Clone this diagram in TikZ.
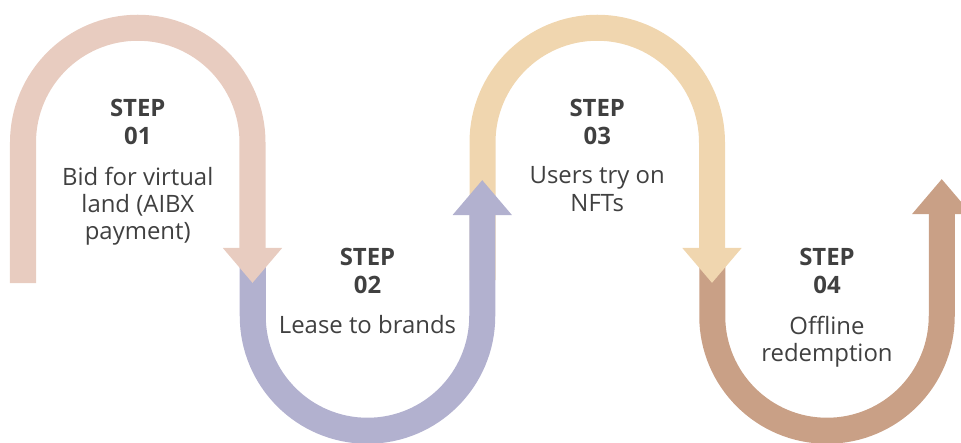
\documentclass[tikz,border=0pt]{standalone}
\usepackage{fontspec}
\setmainfont{Open Sans}
\usepackage{xcolor}
\definecolor{StepPink}{HTML}{E8CCC0}
\definecolor{StepLilac}{HTML}{B2B1CF}
\definecolor{StepSand}{HTML}{F0D6AF}
\definecolor{StepClay}{HTML}{C9A086}
\definecolor{TextGray}{HTML}{404040}
\usetikzlibrary{arrows.meta, positioning}
\tikzset{
  % Band styles
  band/.style={line width=0.65cm, -{Triangle[length=0.875cm, width=1.425cm]}},
  % Text styles
  steptitle/.style={font=\fontsize{17}{19.5}\selectfont\bfseries, text=TextGray, align=center, inner sep=0pt},
  stepdesc/.style={font=\fontsize{17}{19.5}\selectfont, text=TextGray, align=center, inner sep=0pt}
}

\begin{document}
\begin{tikzpicture}[x=0.025cm, y=0.025cm]
  \useasboundingbox (0,0) rectangle (961,442);

  % Bands, last step first so each arrow head lies on top
  \draw[band, StepClay] (712.25,177) -- (712.25,126) arc[start angle=180, end angle=360, radius=114.75] -- (941.75,263);
  \draw[band, StepSand] (482.5,162) -- (482.5,299.5) arc[start angle=180, end angle=0, radius=114.75] -- (712,159);
  \draw[band, StepLilac] (252.75,177) -- (252.75,126) arc[start angle=180, end angle=360, radius=114.75] -- (482.25,262);
  \draw[band, StepPink] (23,159) -- (23,299.5) arc[start angle=180, end angle=0, radius=114.75] -- (252.5,159);

  % Step texts
  \node[steptitle, anchor=north] (title1) at (137.75,343) {STEP\\01};
  \node[stepdesc, below=0.55cm of title1] (desc1) {Bid for virtual\\land (AIBX\\payment)};

  \node[steptitle, anchor=north] (title2) at (367.5,194) {STEP\\02};
  \node[stepdesc, below=0.55cm of title2] (desc2) {Lease to brands};

  \node[steptitle, anchor=north] (title3) at (597.25,343) {STEP\\03};
  \node[stepdesc, below=0.55cm of title3] (desc3) {Users try on\\NFTs};

  \node[steptitle, anchor=north] (title4) at (827,194) {STEP\\04};
  \node[stepdesc, below=0.55cm of title4] (desc4) {Offline\\redemption};
\end{tikzpicture}
\end{document}
